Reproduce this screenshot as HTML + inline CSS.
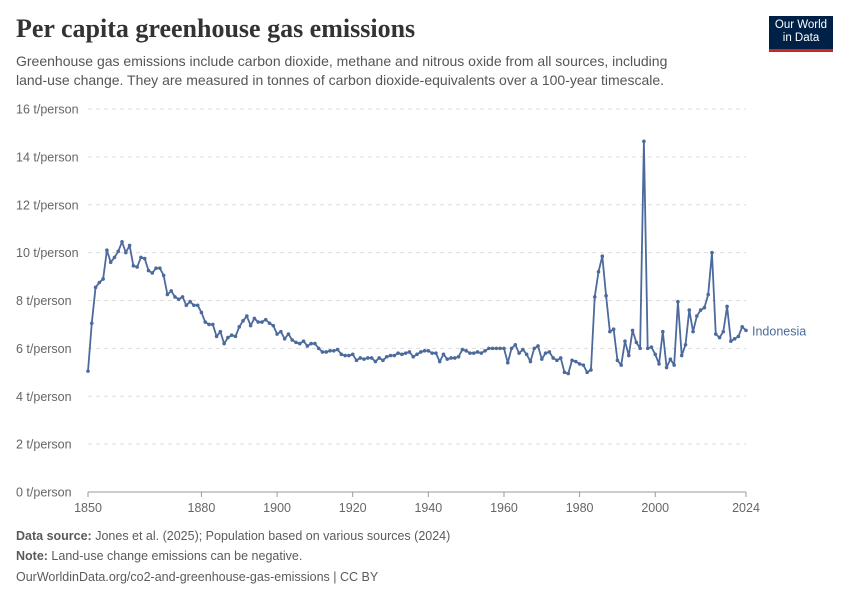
<!DOCTYPE html>
<html><head><meta charset="utf-8"><style>
body{margin:0;background:#fff;font-family:"Liberation Sans",sans-serif;}
.t{position:absolute;}
</style></head><body>
<div style="position:relative;width:850px;height:600px;overflow:hidden">
<div class="t" style="left:16px;top:14px;font-family:'Liberation Serif',serif;font-size:26px;font-weight:bold;color:#333;">Per capita greenhouse gas emissions</div>
<div class="t" style="left:16px;top:52px;font-size:14px;color:#555;line-height:19px;width:700px">Greenhouse gas emissions include carbon dioxide, methane and nitrous oxide from all sources, including<br>land-use change. They are measured in tonnes of carbon dioxide-equivalents over a 100-year timescale.</div>
<div class="t" style="left:769px;top:16px;width:64px;height:36px;background:#002147;border-bottom:3px solid #ce261e;color:#fff;font-size:11.5px;line-height:13px;text-align:center;padding-top:3px;box-sizing:border-box">Our World<br>in Data</div>
<svg id="chart" width="850" height="600" style="position:absolute;left:0;top:0"></svg>
<div class="t" style="left:16px;top:529px;font-size:12.5px;color:#5b5b5b"><b>Data source:</b> Jones et al. (2025); Population based on various sources (2024)</div>
<div class="t" style="left:16px;top:549px;font-size:12.5px;color:#5b5b5b"><b>Note:</b> Land-use change emissions can be negative.</div>
<div class="t" style="left:16px;top:570px;font-size:12.5px;color:#5b5b5b">OurWorldinData.org/co2-and-greenhouse-gas-emissions | CC BY</div>
</div>
<script>
const startYear = 1850;
const values = [5.05,7.05,8.55,8.75,8.9,10.1,9.6,9.8,10.05,10.45,10.0,10.3,9.45,9.4,9.8,9.75,9.25,9.15,9.35,9.35,
9.05,8.25,8.4,8.15,8.05,8.15,7.8,7.95,7.8,7.8,7.5,7.1,7.0,7.0,6.5,6.7,6.2,6.45,6.55,6.5,
6.9,7.15,7.35,6.95,7.25,7.1,7.1,7.2,7.05,6.95,6.6,6.7,6.4,6.6,6.35,6.25,6.2,6.3,6.1,6.2,
6.2,6.0,5.85,5.85,5.9,5.9,5.95,5.75,5.7,5.7,5.75,5.5,5.6,5.55,5.6,5.6,5.45,5.6,5.5,5.65,
5.7,5.7,5.8,5.75,5.8,5.85,5.65,5.75,5.85,5.9,5.9,5.8,5.8,5.45,5.75,5.55,5.6,5.6,5.65,5.95,
5.9,5.8,5.8,5.85,5.8,5.9,6.0,6.0,6.0,6.0,6.0,5.4,6.0,6.15,5.8,5.95,5.75,5.45,6.0,6.1,
5.55,5.8,5.85,5.6,5.5,5.6,5.0,4.95,5.5,5.45,5.35,5.3,5.0,5.1,8.15,9.2,9.85,8.2,6.7,
6.8,5.5,5.3,6.3,5.7,6.75,6.25,6.0,14.65,6.0,6.05,5.75,5.35,6.7,5.2,5.55,5.3,7.95,5.7,6.15,7.6,
6.7,7.35,7.6,7.7,8.25,10.0,6.6,6.45,6.7,7.75,6.3,6.4,6.5,6.9,6.75];
const yTicks = [0,2,4,6,8,10,12,14,16];
const xTicks = [1850,1880,1900,1920,1940,1960,1980,2000,2024];
const seriesName = "Indonesia";

const svg = document.getElementById('chart');
const NS = 'http://www.w3.org/2000/svg';
const x0=88,x1=746,yb=492,yt=109;
const lastYear = startYear + values.length - 1;
const xs = y => x0 + (y-startYear)/(lastYear-startYear)*(x1-x0);
const ys = v => yb - v/16*(yb-yt);
function mk(t,a){const e=document.createElementNS(NS,t);for(const k in a)e.setAttribute(k,a[k]);svg.appendChild(e);return e;}
yTicks.forEach(v=>{
  const l=mk('line',{x1:x0,x2:x1,y1:ys(v),y2:ys(v),stroke:v===0?'#999':'#ddd','stroke-dasharray':v===0?'':'4,4'});
  
  
  const t=mk('text',{x:16,y:ys(v)+4.5,'font-size':12.5,fill:'#666'});
  t.textContent=v+' t/person';
  
  
});
xTicks.forEach(y=>{
  const l=mk('line',{x1:xs(y),x2:xs(y),y1:yb,y2:yb+5,stroke:'#999'});
  
  
  const t=mk('text',{x:xs(y),y:yb+20,'font-size':12.5,fill:'#666','text-anchor':'middle'});
  t.textContent=y;
  
  
});
const pts=values.map((v,i)=>xs(startYear+i)+','+ys(v)).join(' ');
const pl=mk('polyline',{points:pts,fill:'none',stroke:'#4c6a9c','stroke-width':1.8,'stroke-linejoin':'round'});


values.forEach((v,i)=>{
  const c=mk('circle',{cx:xs(startYear+i),cy:ys(v),r:1.8,fill:'#4c6a9c'});
  
  
});
const lab=mk('text',{x:752,y:ys(values[values.length-1])+5,'font-size':12.5,fill:'#4c6a9c'});
lab.textContent=seriesName;


</script>
</body></html>
